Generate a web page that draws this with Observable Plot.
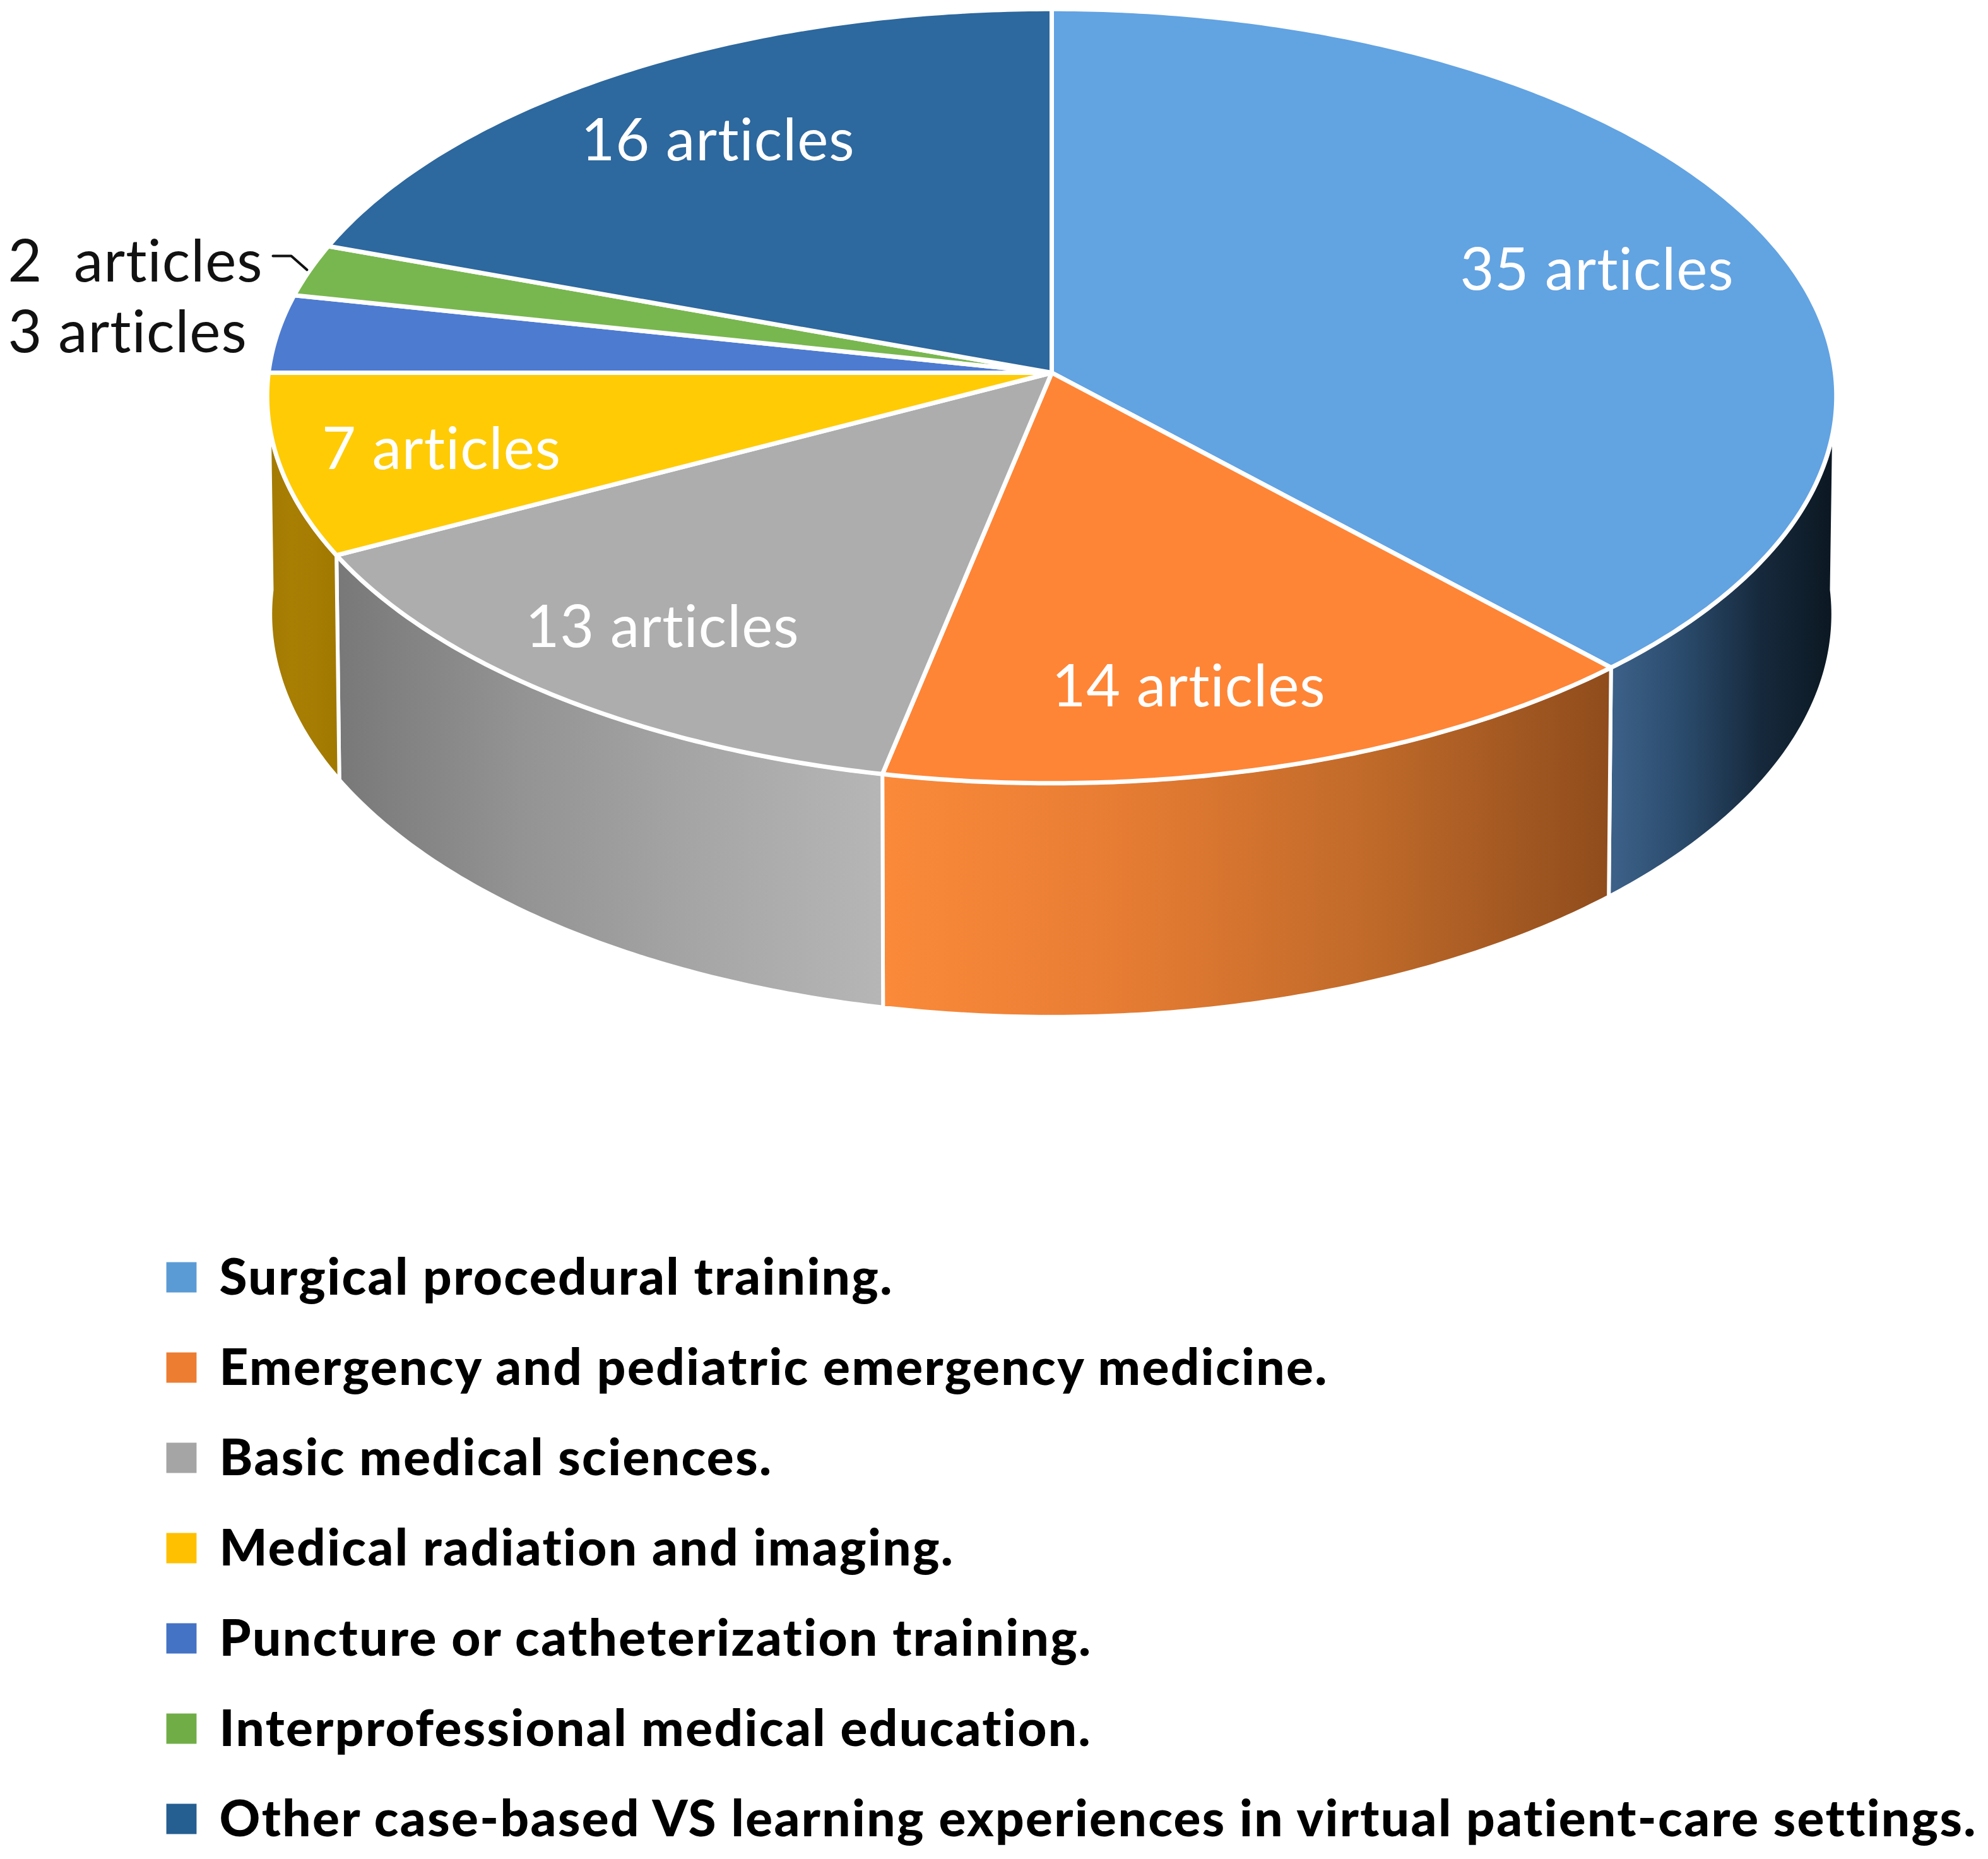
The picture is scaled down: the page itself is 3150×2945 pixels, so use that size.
<!DOCTYPE html>
<html>
<head>
<meta charset="utf-8">
<style>
html,body{margin:0;padding:0;background:#fff}svg{display:block}
g[aria-label="text"]{letter-spacing:1px;font-variant-ligatures:none}
g[aria-label="text"][font-weight]{letter-spacing:2.4px}
</style>
<script src="https://cdn.jsdelivr.net/npm/d3@7"></script>
<script src="https://cdn.jsdelivr.net/npm/@observablehq/plot@0.6"></script>
</head>
<body>
<script>
// Categories in clockwise order from 12 o'clock
const categories = [
  "Surgical procedural training.",
  "Emergency and pediatric emergency medicine.",
  "Basic medical sciences.",
  "Medical radiation and imaging.",
  "Puncture or catheterization training.",
  "Interprofessional medical education.",
  "Other case-based VS learning experiences in virtual patient-care settings."
];
// Printed article counts
const articles = [35, 14, 13, 7, 3, 2, 16];
// Slice sizes as drawn: the last slice is visibly wider than its printed 16
const drawnShares = [35, 14, 13, 7, 3, 2, 18];
const labels = ["35 articles", "14 articles", "13 articles", "7 articles", "3 articles", "2\u00a0 articles", "16 articles"];

const topColors = ["#62a3e2", "#fe8536", "#adadad", "#ffcb05", "#4d7bd0", "#78b74f", "#2d689e"];
const swatchColors = ["#5b9bd5", "#ed7d31", "#a5a5a5", "#ffc000", "#4472c4", "#70ad47", "#255e91"];
const wallStops = [
  ["#3d628a", "#2a4a6b", "#16293c", "#0b1721"],
  ["#fb8a3a", "#e67c33", "#c06a2a", "#8f4c1c"],
  ["#787878", "#939393", "#a6a6a6", "#b6b6b6"],
  ["#a37a03", "#a87e03", "#a67c02", "#a07800"],
  null, null, null
];

// Label anchors, page pixels
const labelX = [2530, 1883, 1049, 699, 12, 12, 1137];
const labelY = [429, 1089, 995, 713, 528, 416, 224];
const labelAnchor = ["middle", "middle", "middle", "middle", "start", "start", "middle"];
const labelFill = ["#fff", "#fff", "#fff", "#fff", "#111", "#111", "#fff"];
const leaderX = [432, 461, 486];
const leaderY = [405, 405, 427];

// Perspective view of the disc
const apex = [1666, 590], spreadX = 1241, spreadY = 611, tilt = 0.0604;
const floor = {sx: 0.996, sy: 1.04, drop: 344};

const project = (a, f) => {
  const x = Math.sin(a), z = Math.cos(a), w = 1 + tilt * z;
  const X = spreadX * x / w, Y = -spreadY * z / w;
  return f
    ? {x: apex[0] + f.sx * X, y: apex[1] + f.drop + f.sy * Y}
    : {x: apex[0] + X, y: apex[1] + Y};
};
const arcAngles = (a0, a1) => {
  const n = Math.max(2, Math.ceil((a1 - a0) / 0.01));
  return d3.range(n + 1).map(i => a0 + (a1 - a0) * i / n);
};
const arcs = d3.pie().sort(null)(drawnShares);

const topFaces = arcs.map(s => {
  const c = {x: apex[0], y: apex[1]};
  return [c, ...arcAngles(s.startAngle, s.endAngle).map(a => project(a)), c];
});

const front0 = Math.PI / 2, front1 = 1.5 * Math.PI;
const wallFaces = arcs.map(s => {
  const a0 = Math.max(s.startAngle, front0), a1 = Math.min(s.endAngle, front1);
  if (a1 <= a0) return null;
  const angles = arcAngles(a0, a1);
  const upper = angles.map(a => project(a));
  const lower = angles.slice().reverse().map(a => project(a, floor));
  return [...upper, ...lower, upper[0]];
});

const defs = () => {
  const d = d3.create("svg:defs");
  wallStops.forEach((stops, i) => {
    if (!stops) return;
    const g = d.append("linearGradient").attr("id", "wall" + i)
      .attr("x1", 0).attr("x2", 1).attr("y1", 0).attr("y2", 0);
    stops.forEach((c, j) => g.append("stop")
      .attr("offset", j / (stops.length - 1)).attr("stop-color", c));
  });
  return d.node();
};

const labelRows = labels.map((t, i) => ({t, x: labelX[i], y: labelY[i], fill: labelFill[i], anchor: labelAnchor[i]}));
const legendRows = categories.map((name, i) => ({name, color: swatchColors[i], y: 2025 + i * 143}));
const font = "Lato, 'Noto Sans', sans-serif";

const chart = Plot.plot({
  width: 3150, height: 2945,
  margin: 0,
  style: {background: "#fff", fontFamily: font},
  x: {domain: [0, 3150], range: [0, 3150], axis: null},
  y: {domain: [0, 2945], range: [0, 2945], axis: null},
  marks: [
    defs,
    ...wallFaces.flatMap((f, i) => f ? [Plot.line(f, {
      x: "x", y: "y", fill: `url(#wall${i})`, stroke: "#fff", strokeWidth: 6, strokeLinejoin: "round"
    })] : []),
    ...topFaces.map((f, i) => Plot.line(f, {
      x: "x", y: "y", fill: topColors[i], stroke: "#fff", strokeWidth: 7, strokeLinejoin: "round"
    })),
    ...["start", "middle"].map(anchor => Plot.text(labelRows.filter(d => d.anchor === anchor), {
      x: "x", y: "y", text: "t", fill: "fill", textAnchor: anchor, fontSize: 93, fontFamily: font
    })),
    Plot.line(leaderX.map((x, i) => ({x, y: leaderY[i]})), {x: "x", y: "y", stroke: "#111", strokeWidth: 4}),
    Plot.dot(legendRows, {x: 287, y: d => d.y - 2, r: 27, symbol: "square", fill: "color"}),
    Plot.text(legendRows, {
      x: 347, y: "y", text: "name", textAnchor: "start", fill: "#000",
      fontSize: 80, fontWeight: 900, fontFamily: font
    })
  ]
});
document.body.appendChild(chart);
</script>
</body>
</html>
